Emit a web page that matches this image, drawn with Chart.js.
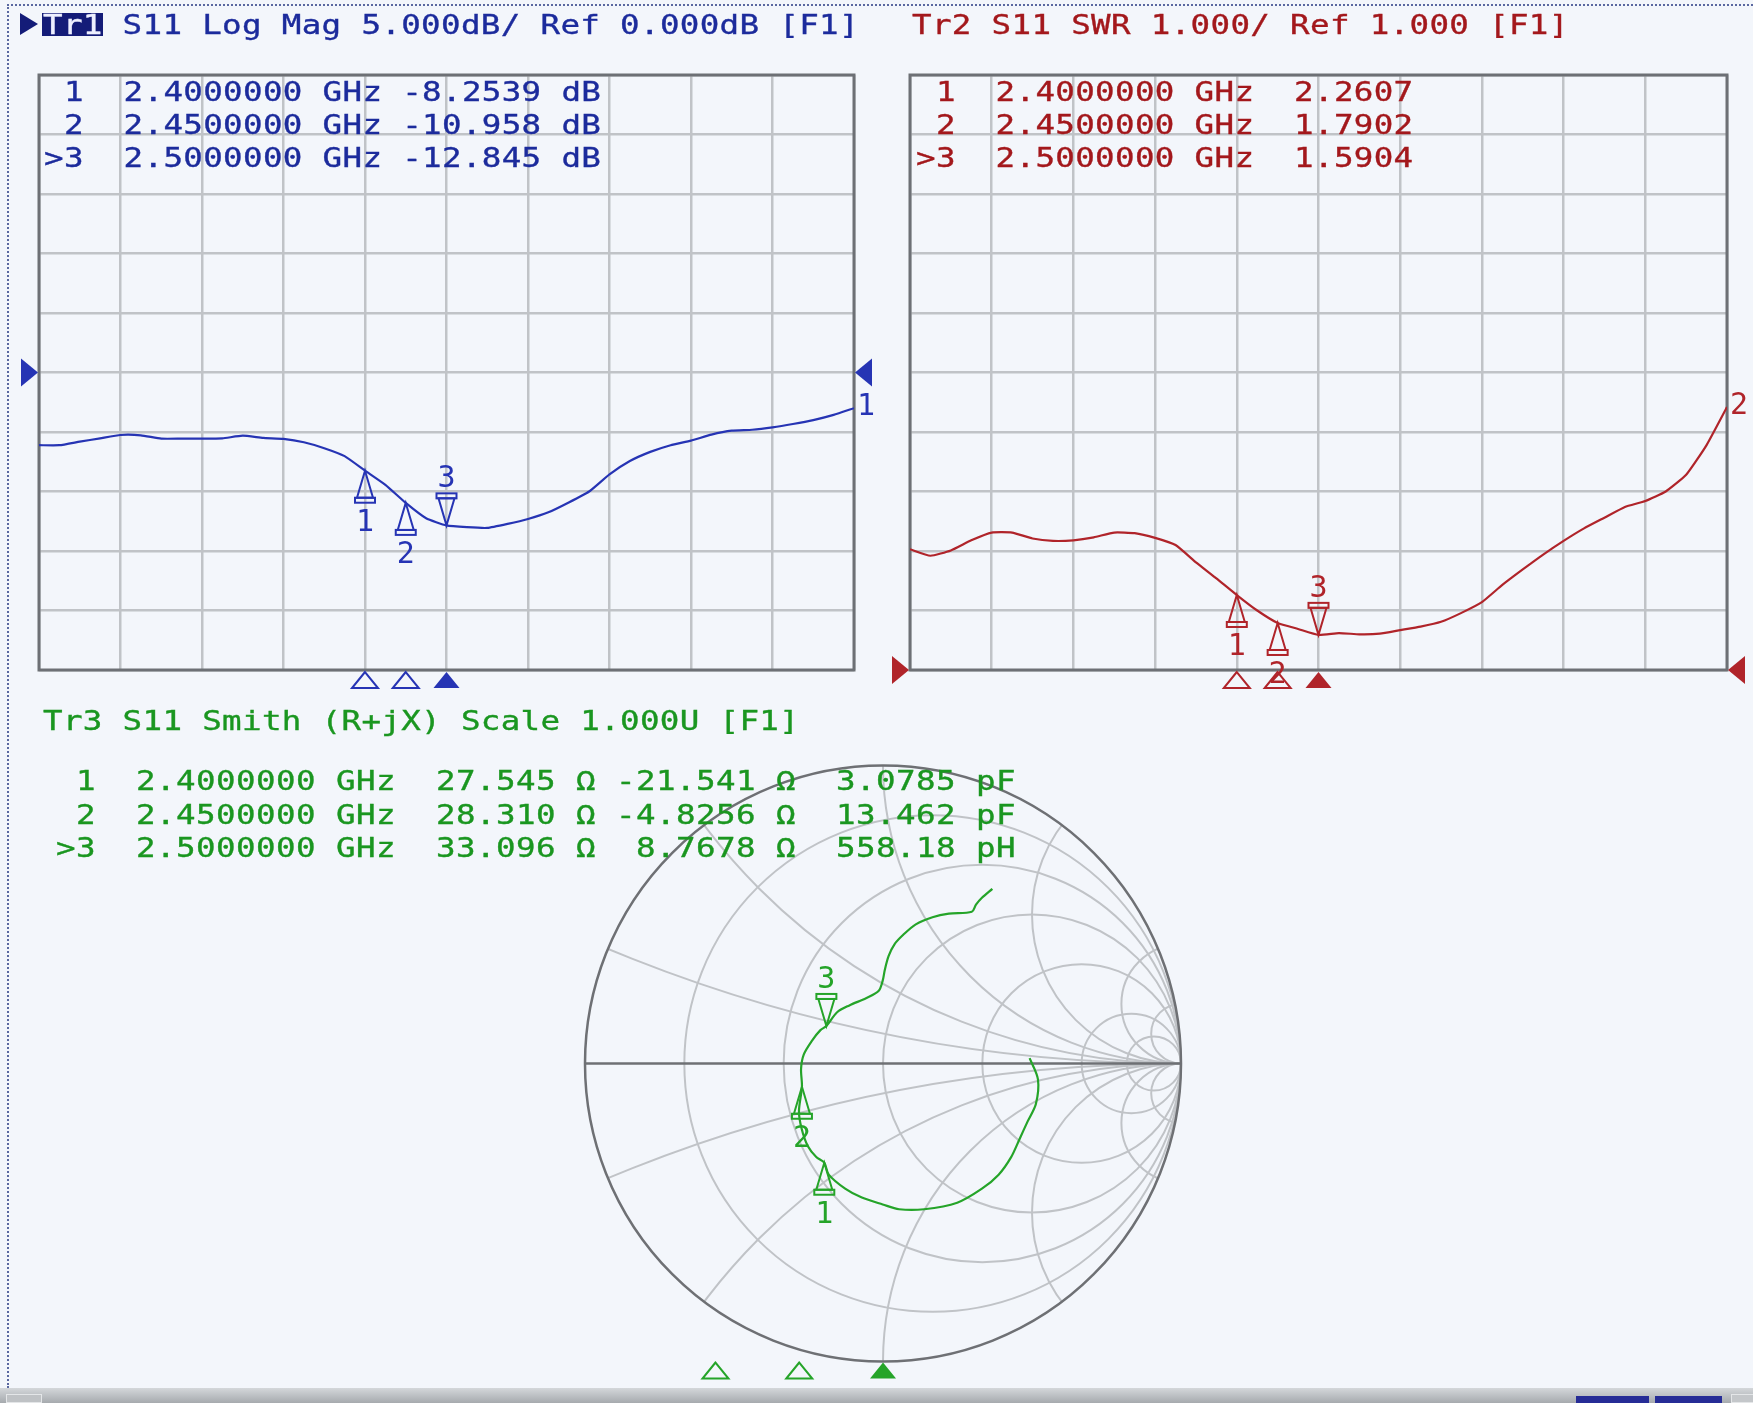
<!DOCTYPE html>
<html>
<head>
<meta charset="utf-8">
<title>S11 2.0 - 3.0 GHz</title>
<script src="https://cdn.jsdelivr.net/npm/chart.js@4.4.1/dist/chart.umd.min.js"></script>
<style>
html, body { margin: 0; padding: 0; }
body { width: 1753px; height: 1403px; background: #f3f6fb; position: relative; overflow: hidden; }
canvas { position: absolute; }
.txt { position: absolute; font-family: "DejaVu Sans Mono", monospace; font-size: 26px; line-height: 26px;
       white-space: pre; transform: scaleX(1.25); transform-origin: 0 0; }
.txt span { -webkit-text-stroke: 0.35px currentColor; }
#dotTop { position: absolute; left: 7px; top: 4px; width: 1746px; border-top: 2px dotted #5a68a0; }
#dotLeft { position: absolute; left: 7px; top: 4px; height: 1384px; border-left: 2px dotted #5a68a0; }
#tr1Arrow { position: absolute; left: 20px; top: 13px; width: 18px; height: 22px; background: #141c78;
            clip-path: polygon(0 0, 100% 50%, 0 100%); }
#tr1Box { position: absolute; left: 42px; top: 13px; width: 61px; height: 23px; background: #141c78; }
#bar { position: absolute; left: 0; top: 1388px; width: 1753px; height: 15px;
       background: linear-gradient(#d4d7da, #a6aaae); }
.barItem { position: absolute; top: 8px; height: 7px; }
</style>
</head>
<body>
<div id="dotTop"></div>
<div id="dotLeft"></div>
<div id="tr1Arrow"></div>
<div id="tr1Box"></div>
<canvas id="chart-logmag" width="880" height="700" style="left:0;top:0"></canvas>
<canvas id="chart-swr" width="873" height="700" style="left:880px;top:0"></canvas>
<canvas id="chart-smith" width="1753" height="673" style="left:0;top:730px"></canvas>
<div id="bar">
  <div class="barItem" style="left:6px;width:34px;background:#bfc2c5;border:1px solid #e4e6e8;top:6px;"></div>
  <div class="barItem" style="left:1576px;width:73px;background:#262c96;"></div>
  <div class="barItem" style="left:1655px;width:67px;background:#262c96;"></div>
  <div class="barItem" style="left:1731px;width:22px;background:#c4c7ca;border:1px solid #e4e6e8;top:6px;"></div>
</div>
<script>
// sweep 2.0 - 3.0 GHz
var freqGHz = [2.000, 2.025, 2.050, 2.075, 2.100, 2.125, 2.150, 2.175, 2.200, 2.225,
               2.250, 2.275, 2.300, 2.325, 2.350, 2.375, 2.400, 2.425, 2.450, 2.475,
               2.500, 2.525, 2.550, 2.575, 2.600, 2.625, 2.650, 2.675, 2.700, 2.725,
               2.750, 2.775, 2.800, 2.825, 2.850, 2.875, 2.900, 2.925, 2.950, 2.975, 3.000];
var s11LogMag = [-6.11, -6.11, -5.81, -5.53, -5.25, -5.28, -5.56, -5.56, -5.56, -5.53,
                 -5.31, -5.50, -5.58, -5.86, -6.36, -7.03, -8.25, -9.44, -10.96, -12.25,
                 -12.85, -13.00, -13.06, -12.72, -12.31, -11.75, -10.92, -10.00, -8.56, -7.44,
                 -6.67, -6.11, -5.72, -5.22, -4.89, -4.81, -4.61, -4.33, -4.00, -3.56, -3.00];
var s11Swr = [3.03, 2.92, 3.01, 3.18, 3.31, 3.31, 3.21, 3.17, 3.18, 3.23,
              3.31, 3.30, 3.22, 3.10, 2.81, 2.54, 2.26, 2.00, 1.79, 1.69,
              1.59, 1.62, 1.60, 1.61, 1.67, 1.73, 1.81, 1.96, 2.14, 2.43,
              2.69, 2.94, 3.17, 3.38, 3.56, 3.74, 3.84, 4.00, 4.28, 4.78, 5.42];
// smith trace, reflection coefficient (re, im), from 2.0 GHz to 3.0 GHz
var smithRe = [0.492, 0.520, 0.513, 0.485, 0.458, 0.430, 0.388, 0.332, 0.249, 0.138,
               0.054, -0.001, -0.071, -0.127, -0.182, -0.197, -0.224, -0.252, -0.273, -0.282,
               -0.272, -0.275, -0.266, -0.238, -0.210, -0.190, -0.154, -0.113, -0.057, -0.015,
               -0.001, 0.006, 0.019, 0.040, 0.068, 0.110, 0.166, 0.221, 0.298, 0.312, 0.332, 0.367];
var smithIm = [0.018, -0.053, -0.136, -0.195, -0.254, -0.314, -0.373, -0.420, -0.467, -0.489,
               -0.489, -0.473, -0.450, -0.420, -0.373, -0.333, -0.314, -0.278, -0.219, -0.160,
               -0.078, -0.018, 0.030, 0.077, 0.112, 0.126, 0.172, 0.195, 0.219, 0.243,
               0.278, 0.314, 0.361, 0.402, 0.432, 0.467, 0.491, 0.503, 0.509, 0.533, 0.556, 0.586];

var markerFreq = [2.40, 2.45, 2.50];
var markerLogMag = [-8.2539, -10.958, -12.845];
var markerSwr = [2.2607, 1.7902, 1.5904];
var markerR = [27.545, 28.310, 33.096];
var markerX = [-21.541, -4.8256, 8.7678];
var markerCL = [3.0785, 13.462, 558.18];
var markerCLUnit = ['pF', 'pF', 'pH'];
var markerRe = [-0.197, -0.272, -0.190];
var markerIm = [-0.333, -0.078, 0.126];
var activeMarker = 2;

var smithGridR = [0.2, 0.5, 1, 2, 5, 10];
var smithGridX = [0.2, 0.5, 1, 2, 5, 10];

var blueText = '#1c2b9c', blueTrace = '#2634b4';
var redText = '#a3181c', redTrace = '#b0242a';
var greenText = '#1a9620', greenTrace = '#25a429';
var gridColor = '#c0c3c7', frameColor = '#6d7075';

// ---- text readouts ----
var SX = 1.25, ADV = 15.654;
function addText(parts, x, yc, pitch) {
    var el = document.createElement('div');
    el.className = 'txt';
    el.style.left = x + 'px';
    el.style.top = (yc - 12.5) + 'px';
    el.style.letterSpacing = (pitch / SX - ADV) + 'px';
    parts.forEach(function (p) {
        var s = document.createElement('span');
        s.textContent = p[0];
        s.style.color = p[1];
        el.appendChild(s);
    });
    document.body.appendChild(el);
}
function pad(s, n) { while (s.length < n) s = ' ' + s; return s; }
function mk(i) { return (i === activeMarker ? '>' : ' ') + (i + 1); }

var rowY = [91, 124, 157];
var smithRowY = [780, 814, 847];

addText([['Tr1', '#eef0ff'], [' S11 Log Mag 5.000dB/ Ref 0.000dB [F1]', blueText]], 43, 24, 19.9);
addText([['Tr2 S11 SWR 1.000/ Ref 1.000 [F1]', redText]], 912, 24, 19.9);
addText([['Tr3 S11 Smith (R+jX) Scale 1.000U [F1]', greenText]], 43, 720, 19.9);

markerFreq.forEach(function (f, i) {
    addText([[mk(i) + '  ' + f.toFixed(7) + ' GHz ' + markerLogMag[i].toPrecision(5) + ' dB', blueText]],
        44, rowY[i], 19.9);
    addText([[mk(i) + '  ' + f.toFixed(7) + ' GHz  ' + markerSwr[i].toPrecision(5), redText]],
        916, rowY[i], 19.9);
    addText([[mk(i) + '  ' + f.toFixed(7) + ' GHz  ' + markerR[i].toPrecision(5) + ' \u03a9 ' +
        pad(markerX[i].toPrecision(5), 7) + ' \u03a9  ' + markerCL[i].toPrecision(5) + ' ' + markerCLUnit[i], greenText]],
        56, smithRowY[i], 20);
});

// ---- drawing helpers ----
function drawMarker(ctx, x, y, n, active, color) {
    var d = active ? -1 : 1;
    ctx.save();
    ctx.strokeStyle = color;
    ctx.fillStyle = color;
    ctx.lineWidth = 2;
    ctx.beginPath();
    ctx.moveTo(x, y);
    ctx.lineTo(x - 8, y + d * 27);
    ctx.lineTo(x + 8, y + d * 27);
    ctx.closePath();
    ctx.stroke();
    ctx.strokeRect(x - 10, active ? y - 32 : y + 27, 20, 5);
    ctx.font = '30px "DejaVu Sans Mono"';
    ctx.textAlign = 'center';
    ctx.fillText(String(n), x, active ? y - 38 : y + 60);
    ctx.restore();
}
function drawStim(ctx, x, top, active, color) {
    ctx.save();
    ctx.strokeStyle = color;
    ctx.fillStyle = color;
    ctx.lineWidth = 2;
    ctx.beginPath();
    ctx.moveTo(x, top);
    ctx.lineTo(x - 13, top + 16);
    ctx.lineTo(x + 13, top + 16);
    ctx.closePath();
    if (active) ctx.fill(); else ctx.stroke();
    ctx.restore();
}
function drawRef(ctx, xTip, y, dir, color) {
    ctx.save();
    ctx.fillStyle = color;
    ctx.beginPath();
    ctx.moveTo(xTip, y);
    ctx.lineTo(xTip - dir * 17, y - 14);
    ctx.lineTo(xTip - dir * 17, y + 14);
    ctx.closePath();
    ctx.fill();
    ctx.restore();
}

function rectPlotPlugin(cfg) {
    return {
        id: 'vna_' + cfg.name,
        beforeDatasetsDraw: function (chart) {
            var a = chart.chartArea, ctx = chart.ctx;
            ctx.save();
            ctx.strokeStyle = frameColor;
            ctx.lineWidth = 3;
            ctx.strokeRect(a.left, a.top, a.right - a.left, a.bottom - a.top);
            ctx.restore();
        },
        afterDatasetsDraw: function (chart) {
            var xs = chart.scales.x, ys = chart.scales.y, a = chart.chartArea, ctx = chart.ctx;
            var yRef = ys.getPixelForValue(cfg.refValue);
            drawRef(ctx, a.left - 1, yRef, 1, cfg.color);
            drawRef(ctx, a.right + 1, yRef, -1, cfg.color);
            markerFreq.forEach(function (f, i) {
                var x = xs.getPixelForValue(f);
                drawMarker(ctx, x, ys.getPixelForValue(cfg.markers[i]), i + 1, i === activeMarker, cfg.color);
                drawStim(ctx, x, a.bottom + 2, i === activeMarker, cfg.color);
            });
            var last = cfg.values[cfg.values.length - 1];
            ctx.save();
            ctx.fillStyle = cfg.color;
            ctx.font = '30px "DejaVu Sans Mono"';
            ctx.fillText(cfg.traceNo, a.right + 3, ys.getPixelForValue(last) + 7);
            ctx.restore();
        }
    };
}

function rectOptions(pad, yMin, yMax, yStep) {
    return {
        responsive: false,
        animation: false,
        devicePixelRatio: 1,
        events: [],
        layout: { padding: pad },
        plugins: { legend: { display: false }, tooltip: { enabled: false } },
        scales: {
            x: {
                type: 'linear', min: 2, max: 3,
                ticks: { display: false, stepSize: 0.1 },
                grid: { color: gridColor, lineWidth: 2.5, drawTicks: false },
                border: { display: false }
            },
            y: {
                type: 'linear', min: yMin, max: yMax,
                ticks: { display: false, stepSize: yStep },
                grid: { color: gridColor, lineWidth: 2.5, drawTicks: false },
                border: { display: false }
            }
        }
    };
}

function xy(xsArr, ysArr) {
    return xsArr.map(function (v, i) { return { x: v, y: ysArr[i] }; });
}

new Chart(document.getElementById('chart-logmag').getContext('2d'), {
    type: 'line',
    data: {
        datasets: [{
            data: xy(freqGHz, s11LogMag),
            borderColor: blueTrace, borderWidth: 2.2, pointRadius: 0, tension: 0.15, fill: false
        }]
    },
    options: rectOptions({ left: 39, top: 75, right: 26, bottom: 30 }, -25, 25, 5),
    plugins: [rectPlotPlugin({ name: 'logmag', color: blueTrace, refValue: 0, markers: markerLogMag,
        values: s11LogMag, traceNo: '1' })]
});

new Chart(document.getElementById('chart-swr').getContext('2d'), {
    type: 'line',
    data: {
        datasets: [{
            data: xy(freqGHz, s11Swr),
            borderColor: redTrace, borderWidth: 2.2, pointRadius: 0, tension: 0.15, fill: false
        }]
    },
    options: rectOptions({ left: 30, top: 75, right: 26, bottom: 30 }, 1, 11, 1),
    plugins: [rectPlotPlugin({ name: 'swr', color: redTrace, refValue: 1, markers: markerSwr,
        values: s11Swr, traceNo: '2' })]
});

var smithPlugin = {
    id: 'smith_grid',
    beforeDatasetsDraw: function (chart) {
        var xs = chart.scales.x, ys = chart.scales.y, ctx = chart.ctx;
        var cx = xs.getPixelForValue(0), cy = ys.getPixelForValue(0);
        var R = xs.getPixelForValue(1) - cx;
        ctx.save();
        ctx.beginPath();
        ctx.arc(cx, cy, R, 0, 2 * Math.PI);
        ctx.clip();
        ctx.strokeStyle = gridColor;
        ctx.lineWidth = 2;
        smithGridR.forEach(function (r) {
            ctx.beginPath();
            ctx.arc(xs.getPixelForValue(r / (1 + r)), cy, R / (1 + r), 0, 2 * Math.PI);
            ctx.stroke();
        });
        smithGridX.forEach(function (x) {
            [1, -1].forEach(function (s) {
                ctx.beginPath();
                ctx.arc(xs.getPixelForValue(1), ys.getPixelForValue(s / x), R / x, 0, 2 * Math.PI);
                ctx.stroke();
            });
        });
        ctx.restore();
        ctx.save();
        ctx.strokeStyle = '#6e7074';
        ctx.lineWidth = 2.5;
        ctx.beginPath();
        ctx.moveTo(cx - R, cy);
        ctx.lineTo(cx + R, cy);
        ctx.stroke();
        ctx.beginPath();
        ctx.arc(cx, cy, R, 0, 2 * Math.PI);
        ctx.stroke();
        ctx.restore();
    },
    afterDatasetsDraw: function (chart) {
        var xs = chart.scales.x, ys = chart.scales.y, fs = chart.scales.freq, ctx = chart.ctx;
        var cy = ys.getPixelForValue(0), R = xs.getPixelForValue(1) - xs.getPixelForValue(0);
        markerFreq.forEach(function (f, i) {
            drawMarker(ctx, xs.getPixelForValue(markerRe[i]), ys.getPixelForValue(markerIm[i]),
                i + 1, i === activeMarker, greenTrace);
            drawStim(ctx, fs.getPixelForValue(f), cy + R + 1, i === activeMarker, greenTrace);
        });
    }
};

new Chart(document.getElementById('chart-smith').getContext('2d'), {
    type: 'scatter',
    data: {
        datasets: [{
            data: xy(smithRe, smithIm),
            showLine: true,
            borderColor: greenTrace, borderWidth: 2.2, pointRadius: 0, tension: 0.3, fill: false
        }]
    },
    options: {
        responsive: false,
        animation: false,
        devicePixelRatio: 1,
        events: [],
        layout: { padding: { left: 45.5, right: 32.5, top: 33.5, bottom: 39.5 } },
        plugins: { legend: { display: false }, tooltip: { enabled: false } },
        scales: {
            x: { type: 'linear', min: -2.8104, max: 2.8104, display: false },
            y: { type: 'linear', min: -1.00671, max: 1.00671, display: false },
            freq: { type: 'linear', axis: 'x', position: 'bottom', min: 2, max: 3, display: false }
        }
    },
    plugins: [smithPlugin]
});
</script>
</body>
</html>
